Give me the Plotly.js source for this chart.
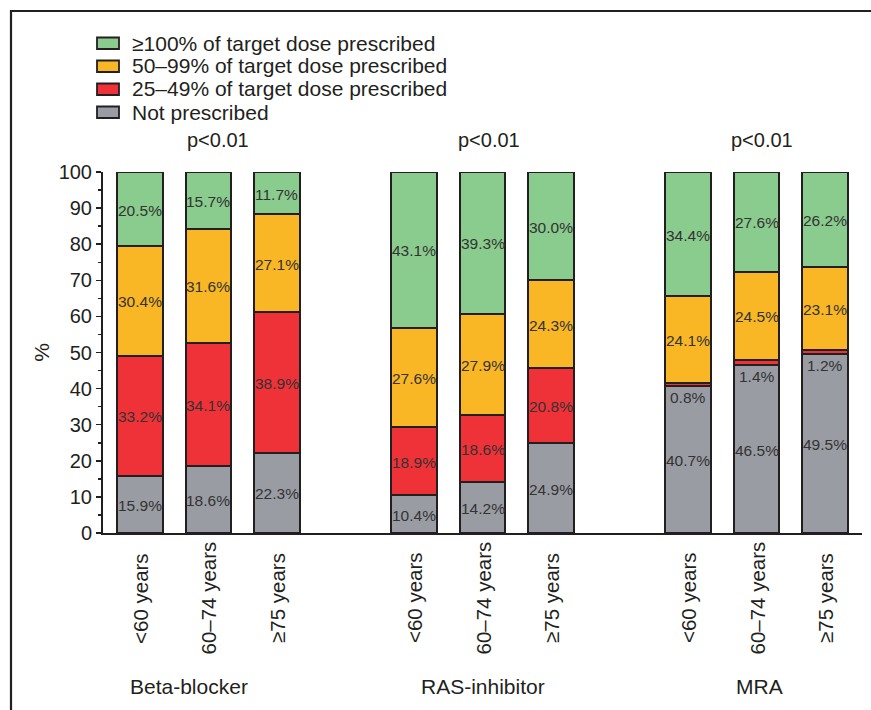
<!DOCTYPE html>
<html><head><meta charset="utf-8">
<script src="https://cdn.plot.ly/plotly-3.0.1.min.js"></script>
<style>html,body{margin:0;padding:0;background:#fff}#chart{width:871px;height:710px}</style>
</head><body><div id="chart"></div>
<script>
// ---------- data ----------
const ageGroups = ['<60 years', '60–74 years', '≥75 years'];
const drugClasses = ['Beta-blocker', 'RAS-inhibitor', 'MRA'];
const pValues = ['p<0.01', 'p<0.01', 'p<0.01'];
const seriesNames = ['Not prescribed', '25–49% of target dose prescribed', '50–99% of target dose prescribed', '≥100% of target dose prescribed'];
const seriesColors = ['#9a9ca3', '#ee3238', '#f9b625', '#8acb8e'];
// order: Beta-blocker (<60, 60–74, ≥75), RAS-inhibitor (...), MRA (...)
const notPrescribed = [15.9, 18.6, 22.3, 10.4, 14.2, 24.9, 40.7, 46.5, 49.5];
const dose25to49   = [33.2, 34.1, 38.9, 18.9, 18.6, 20.8, 0.8, 1.4, 1.2];
const dose50to99   = [30.4, 31.6, 27.1, 27.6, 27.9, 24.3, 24.1, 24.5, 23.1];
const dose100plus  = [20.5, 15.7, 11.7, 43.1, 39.3, 30.0, 34.4, 27.6, 26.2];
const yTickVals = [0, 10, 20, 30, 40, 50, 60, 70, 80, 90, 100];

// ---------- layout geometry ----------
const W = 871, H = 710;
const M = {l: 103, r: 9, t: 172, b: 177};
const PW = W - M.l - M.r, PH = H - M.t - M.b;
const px2x = p => (p - M.l) / PW;
const py2y = p => (M.t + PH - p) / PH;
const FONT = 'Liberation Sans, Arial, Helvetica, sans-serif';
const INK = '#231f20';

const series = [notPrescribed, dose25to49, dose50to99, dose100plus];
const xPos = [];
drugClasses.forEach((d, g) => ageGroups.forEach((a, k) => xPos.push(g * 4 + k)));

const traces = series.map((vals, s) => ({
  type: 'bar', x: xPos, y: vals, name: seriesNames[s], width: 0.67,
  marker: {color: seriesColors[s], line: {color: INK, width: 2}},
  hoverinfo: 'y+name', showlegend: false
}));

const annotations = [];
// value labels
xPos.forEach((x, i) => {
  let base = 0;
  series.forEach((vals) => {
    const v = vals[i];
    const small = v < 3;
    annotations.push({
      x: x, y: small ? base : base + v / 2, xref: 'x', yref: 'y',
      text: v.toFixed(1) + '%', showarrow: false,
      yanchor: small ? 'top' : 'middle', yshift: -1,
      font: {family: FONT, size: 15.5, color: '#333'}
    });
    base += v;
  });
});
// category labels (rotated)
xPos.forEach((x, i) => {
  annotations.push({
    x: x, y: py2y(598), xref: 'x', yref: 'paper', text: ageGroups[i % 3],
    textangle: -90, showarrow: false, xanchor: 'center', yanchor: 'middle',
    font: {family: FONT, size: 20.5, color: INK}
  });
});
// group labels and p-values
const groupLabelX = [0.72, 5, 9.05];
const pLabelX = [1.14, 5.1, 9.08];
drugClasses.forEach((d, g) => {
  annotations.push({
    x: groupLabelX[g], y: py2y(686), xref: 'x', yref: 'paper', text: d,
    showarrow: false, xanchor: 'center', yanchor: 'middle',
    font: {family: FONT, size: 21, color: INK}
  });
  annotations.push({
    x: pLabelX[g], y: py2y(140), xref: 'x', yref: 'paper', text: pValues[g],
    showarrow: false, xanchor: 'center', yanchor: 'middle',
    font: {family: FONT, size: 20, color: INK}
  });
});

const shapes = [];
// legend (top row = last series)
const legendRows = [43, 66, 89, 112];
for (let r = 0; r < 4; r++) {
  const s = 3 - r;
  const cy = legendRows[r];
  shapes.push({
    type: 'rect', xref: 'paper', yref: 'paper',
    x0: px2x(97), x1: px2x(119), y0: py2y(cy + 6), y1: py2y(cy - 5.5),
    fillcolor: seriesColors[s], line: {color: INK, width: 1.8}
  });
  annotations.push({
    x: px2x(130), y: py2y(cy), xref: 'paper', yref: 'paper', text: seriesNames[s],
    showarrow: false, xanchor: 'left', yanchor: 'middle',
    font: {family: FONT, size: 21, color: INK}
  });
}
// figure frame (left and top edges)
shapes.push({
  type: 'path', xref: 'paper', yref: 'paper',
  path: `M ${px2x(11)},${py2y(H + 5)} L ${px2x(11)},${py2y(11)} L ${px2x(W + 5)},${py2y(11)}`,
  line: {color: INK, width: 2.2}
});

const layout = {
  width: W, height: H, margin: M, barmode: 'stack',
  paper_bgcolor: '#fff', plot_bgcolor: '#fff', showlegend: false,
  font: {family: FONT, color: INK},
  xaxis: {
    range: [-0.54, 10.54], showticklabels: false, ticks: '', showgrid: false, zeroline: false,
    showline: true, linecolor: INK, linewidth: 2, fixedrange: true
  },
  yaxis: {
    range: [0, 100], tickvals: yTickVals, ticks: 'outside', ticklen: 5, tickwidth: 1.5, tickcolor: INK,
    showline: true, linecolor: INK, linewidth: 2, showgrid: false, zeroline: false,
    tickfont: {family: FONT, size: 20, color: INK},
    minor: {dtick: 5, tick0: 0, ticks: 'outside', ticklen: 3, tickwidth: 1.5, tickcolor: INK, showgrid: false},
    title: {text: '%', font: {family: FONT, size: 21, color: INK}, standoff: 3},
    fixedrange: true
  },
  annotations: annotations, shapes: shapes
};

Plotly.newPlot('chart', traces, layout, {displayModeBar: false, staticPlot: true});
</script>
</body></html>
